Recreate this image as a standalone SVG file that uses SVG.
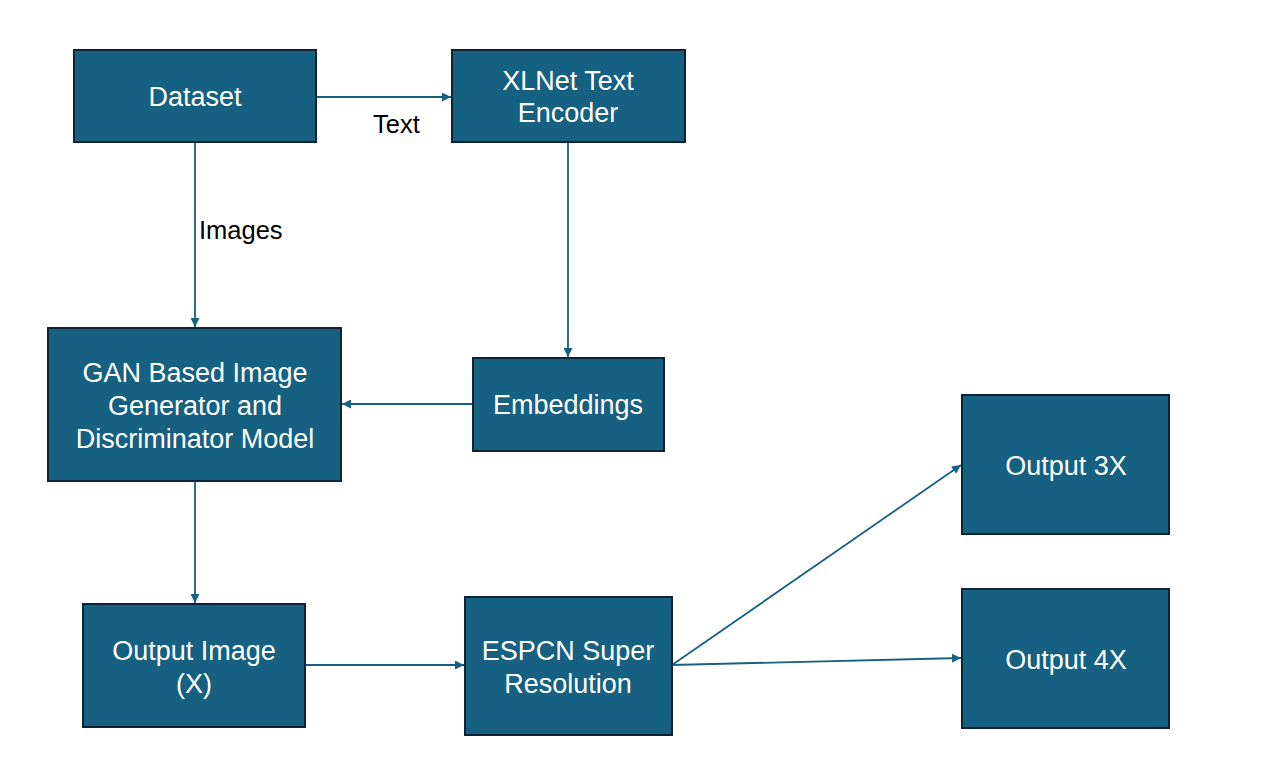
<svg xmlns="http://www.w3.org/2000/svg" width="1285" height="770" viewBox="0 0 1285 770">
<style>
.box{fill:#166082;stroke:#0e2436;stroke-width:2}
.lbl{fill:#ffffff;font-family:"Liberation Sans",Arial,sans-serif;font-size:27px;text-anchor:middle}
.edge{stroke:#166082;stroke-width:1.8;fill:none}
.elbl{fill:#000000;font-family:"Liberation Sans",Arial,sans-serif;font-size:25.5px}
</style>
<defs>
<marker id="arr" viewBox="0 0 10 10" refX="10" refY="5" markerWidth="5" markerHeight="5" orient="auto" markerUnits="strokeWidth">
<path d="M0,0 L10,5 L0,10 z" fill="#166082"/>
</marker>
</defs>
<rect width="1285" height="770" fill="#ffffff"/>
<g id="connectors">
<line class="edge" x1="316" y1="97" x2="451" y2="97" marker-end="url(#arr)"/>
<line class="edge" x1="195" y1="143" x2="195" y2="327" marker-end="url(#arr)"/>
<line class="edge" x1="568" y1="143" x2="568" y2="357" marker-end="url(#arr)"/>
<line class="edge" x1="473" y1="404" x2="342" y2="404" marker-end="url(#arr)"/>
<line class="edge" x1="195" y1="482" x2="195" y2="603" marker-end="url(#arr)"/>
<line class="edge" x1="305" y1="665" x2="464" y2="665" marker-end="url(#arr)"/>
<line class="edge" x1="672" y1="665" x2="961" y2="465" marker-end="url(#arr)"/>
<line class="edge" x1="672" y1="665" x2="961" y2="658" marker-end="url(#arr)"/>
<text class="elbl" x="373" y="133">Text</text>
<text class="elbl" x="199" y="239">Images</text>
</g>
<g id="dataset">
<rect class="box" x="74" y="50" width="242" height="92"/>
<text class="lbl" x="195" y="106">Dataset</text>
</g>
<g id="xlnet">
<rect class="box" x="452" y="50" width="233" height="92"/>
<text class="lbl" x="568" y="90">XLNet Text</text>
<text class="lbl" x="568" y="122">Encoder</text>
</g>
<g id="gan">
<rect class="box" x="48" y="328" width="293" height="153"/>
<text class="lbl" x="195" y="382">GAN Based Image</text>
<text class="lbl" x="195" y="415">Generator and</text>
<text class="lbl" x="195" y="448">Discriminator Model</text>
</g>
<g id="embeddings">
<rect class="box" x="473" y="358" width="191" height="93"/>
<text class="lbl" x="568" y="414">Embeddings</text>
</g>
<g id="output3x">
<rect class="box" x="962" y="395" width="207" height="139"/>
<text class="lbl" x="1066" y="475">Output 3X</text>
</g>
<g id="output4x">
<rect class="box" x="962" y="589" width="207" height="139"/>
<text class="lbl" x="1066" y="669">Output 4X</text>
</g>
<g id="outputimage">
<rect class="box" x="83" y="604" width="222" height="123"/>
<text class="lbl" x="194" y="660">Output Image</text>
<text class="lbl" x="194" y="693">(X)</text>
</g>
<g id="espcn">
<rect class="box" x="465" y="597" width="207" height="138"/>
<text class="lbl" x="568" y="660">ESPCN Super</text>
<text class="lbl" x="568" y="693">Resolution</text>
</g>
</svg>
